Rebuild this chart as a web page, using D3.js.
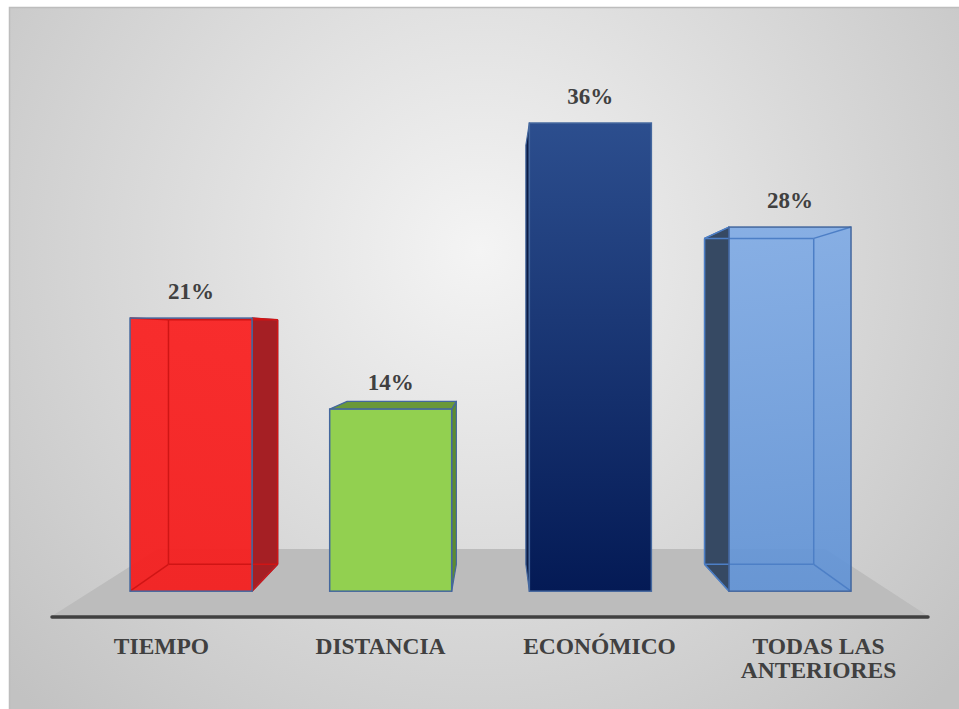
<!DOCTYPE html>
<html>
<head>
<meta charset="utf-8">
<script src="https://cdn.jsdelivr.net/npm/d3@7"></script>
<style>
  body { margin: 0; background: #fff; }
  svg { display: block; }
</style>
</head>
<body>
<div id="chart"></div>
<script>
// Chart data
const categories = ["TIEMPO", "DISTANCIA", "ECONÓMICO", "TODAS LAS ANTERIORES"];
const labelLines = [["TIEMPO"], ["DISTANCIA"], ["ECONÓMICO"], ["TODAS LAS", "ANTERIORES"]];
const values = [21, 14, 36, 28];
const valueLabels = ["21%", "14%", "36%", "28%"];

// Colours per bar (front top, front bottom, side, top face, inner edge)
const frontTop = ["#f92323", "#92d050", "#2c4e8e", "#7eaae5"];
const frontBottom = ["#f41f1f", "#92d050", "#041a55", "#5f92d6"];
const sideColors = ["#a51f24", "#5e8c2e", "#0c1d47", "#364963"];
const topColors = ["#b02226", "#6a9839", "#1d3a72", "#4a78bb"];
const innerColors = ["#d01515", null, null, "#4d7fc6"];
const frontOpacity = [0.95, 1, 1, 0.9];

const W = 959, H = 709;

const svg = d3.select("#chart")
    .append("svg")
    .attr("width", W)
    .attr("height", H);

const defs = svg.append("defs");

// background gradient of the chart area
const bg = defs.append("radialGradient")
    .attr("id", "bg")
    .attr("gradientUnits", "userSpaceOnUse")
    .attr("cx", 480).attr("cy", 250).attr("r", 640);
bg.append("stop").attr("offset", "0%").attr("stop-color", "#f4f4f4");
bg.append("stop").attr("offset", "100%").attr("stop-color", "#c2c2c2");

categories.forEach((c, i) => {
    const g = defs.append("linearGradient")
        .attr("id", "front" + i)
        .attr("x1", 0).attr("y1", 0).attr("x2", 0).attr("y2", 1);
    g.append("stop").attr("offset", "0%").attr("stop-color", frontTop[i]);
    g.append("stop").attr("offset", "100%").attr("stop-color", frontBottom[i]);
});

// chart frame
svg.append("rect")
    .attr("x", 9.5).attr("y", 7.5)
    .attr("width", W).attr("height", H)
    .attr("fill", "url(#bg)")
    .attr("stroke", "#bdbdbd")
    .attr("stroke-width", 1.5);

// Perspective setup
const vp = {x: 496, y: 335};
const proj = (p, k) => [vp.x + k * (p[0] - vp.x), vp.y + k * (p[1] - vp.y)];
const axisY = 616;
const kFront = 0.9117;  // bar front relative to floor front
const kDepth = 0.895;   // bar back relative to bar front
const kFloor = 0.762;   // floor back relative to floor front

const x = d3.scaleBand()
    .domain(categories)
    .range([52, 928]);

const y = d3.scaleLinear()
    .domain([0, 40])
    .range([proj([0, axisY], kFront)[1], 71]);

const barW = 122;

// Floor
const f0 = [x.range()[0], axisY], f1 = [x.range()[1], axisY];
const floorPts = [f0, f1, proj(f1, kFloor), proj(f0, kFloor)];
svg.append("polygon")
    .attr("points", floorPts.map(p => p.join(",")).join(" "))
    .attr("fill", "#bcbcbc");

// Bars
const line = pts => pts.map(p => p.join(",")).join(" ");

categories.forEach((c, i) => {
    const cx = proj([x(c) + x.bandwidth() / 2, axisY], kFront)[0];
    const x0 = cx - barW / 2, x1 = cx + barW / 2;
    const yt = y(values[i]), yb = y(0);
    const FTL = [x0, yt], FTR = [x1, yt], FBR = [x1, yb], FBL = [x0, yb];
    const BTL = proj(FTL, kDepth), BTR = proj(FTR, kDepth),
          BBR = proj(FBR, kDepth), BBL = proj(FBL, kDepth);
    const g = svg.append("g");

    // side face
    const side = cx < vp.x ? [FTR, BTR, BBR, FBR] : [FTL, BTL, BBL, FBL];
    g.append("polygon")
        .attr("points", line(side))
        .attr("fill", sideColors[i])
        .attr("stroke", "#44679e")
        .attr("stroke-width", 1.2)
        .attr("stroke-linejoin", "round");

    // top face, seen only below eye level
    if (yt > vp.y) {
        g.append("polygon")
            .attr("points", line([FTL, FTR, BTR, BTL]))
            .attr("fill", topColors[i])
            .attr("stroke", "#44679e")
            .attr("stroke-width", 1.2)
            .attr("stroke-linejoin", "round");
    }

    // front face
    g.append("rect")
        .attr("x", x0).attr("y", yt)
        .attr("width", barW).attr("height", yb - yt)
        .attr("fill", "url(#front" + i + ")")
        .attr("fill-opacity", frontOpacity[i]);

    // hidden edges show through transparent bars
    if (innerColors[i]) {
        const edges = [[BTL, BTR], [BTR, BBR], [BBR, BBL], [BBL, BTL],
                       [FTL, BTL], [FTR, BTR], [FBR, BBR], [FBL, BBL]];
        edges.forEach(e => {
            g.append("line")
                .attr("x1", e[0][0]).attr("y1", e[0][1])
                .attr("x2", e[1][0]).attr("y2", e[1][1])
                .attr("stroke", innerColors[i])
                .attr("stroke-width", 1.5);
        });
    }

    g.append("rect")
        .attr("x", x0).attr("y", yt)
        .attr("width", barW).attr("height", yb - yt)
        .attr("fill", "none")
        .attr("stroke", "#44679e")
        .attr("stroke-width", 1.5);

    // value label
    svg.append("text")
        .attr("x", cx)
        .attr("y", yt - 19)
        .attr("text-anchor", "middle")
        .style("font-family", "'Liberation Serif', 'Times New Roman', serif")
        .style("font-weight", "bold")
        .style("font-size", "23px")
        .attr("fill", "#404040")
        .text(valueLabels[i]);
});

// Axis line
svg.append("line")
    .attr("x1", x.range()[0]).attr("y1", axisY + 1)
    .attr("x2", x.range()[1]).attr("y2", axisY + 1)
    .attr("stroke", "#404040")
    .attr("stroke-width", 3.5)
    .attr("stroke-linecap", "round");

// Category labels
categories.forEach((c, i) => {
    const t = svg.append("text")
        .attr("text-anchor", "middle")
        .style("font-family", "'Liberation Serif', 'Times New Roman', serif")
        .style("font-weight", "bold")
        .style("font-size", "23.5px")
        .attr("fill", "#404040");
    labelLines[i].forEach((l, j) => {
        t.append("tspan")
            .attr("x", x(c) + x.bandwidth() / 2)
            .attr("y", 654 + j * 24)
            .text(l);
    });
});
</script>
</body>
</html>
